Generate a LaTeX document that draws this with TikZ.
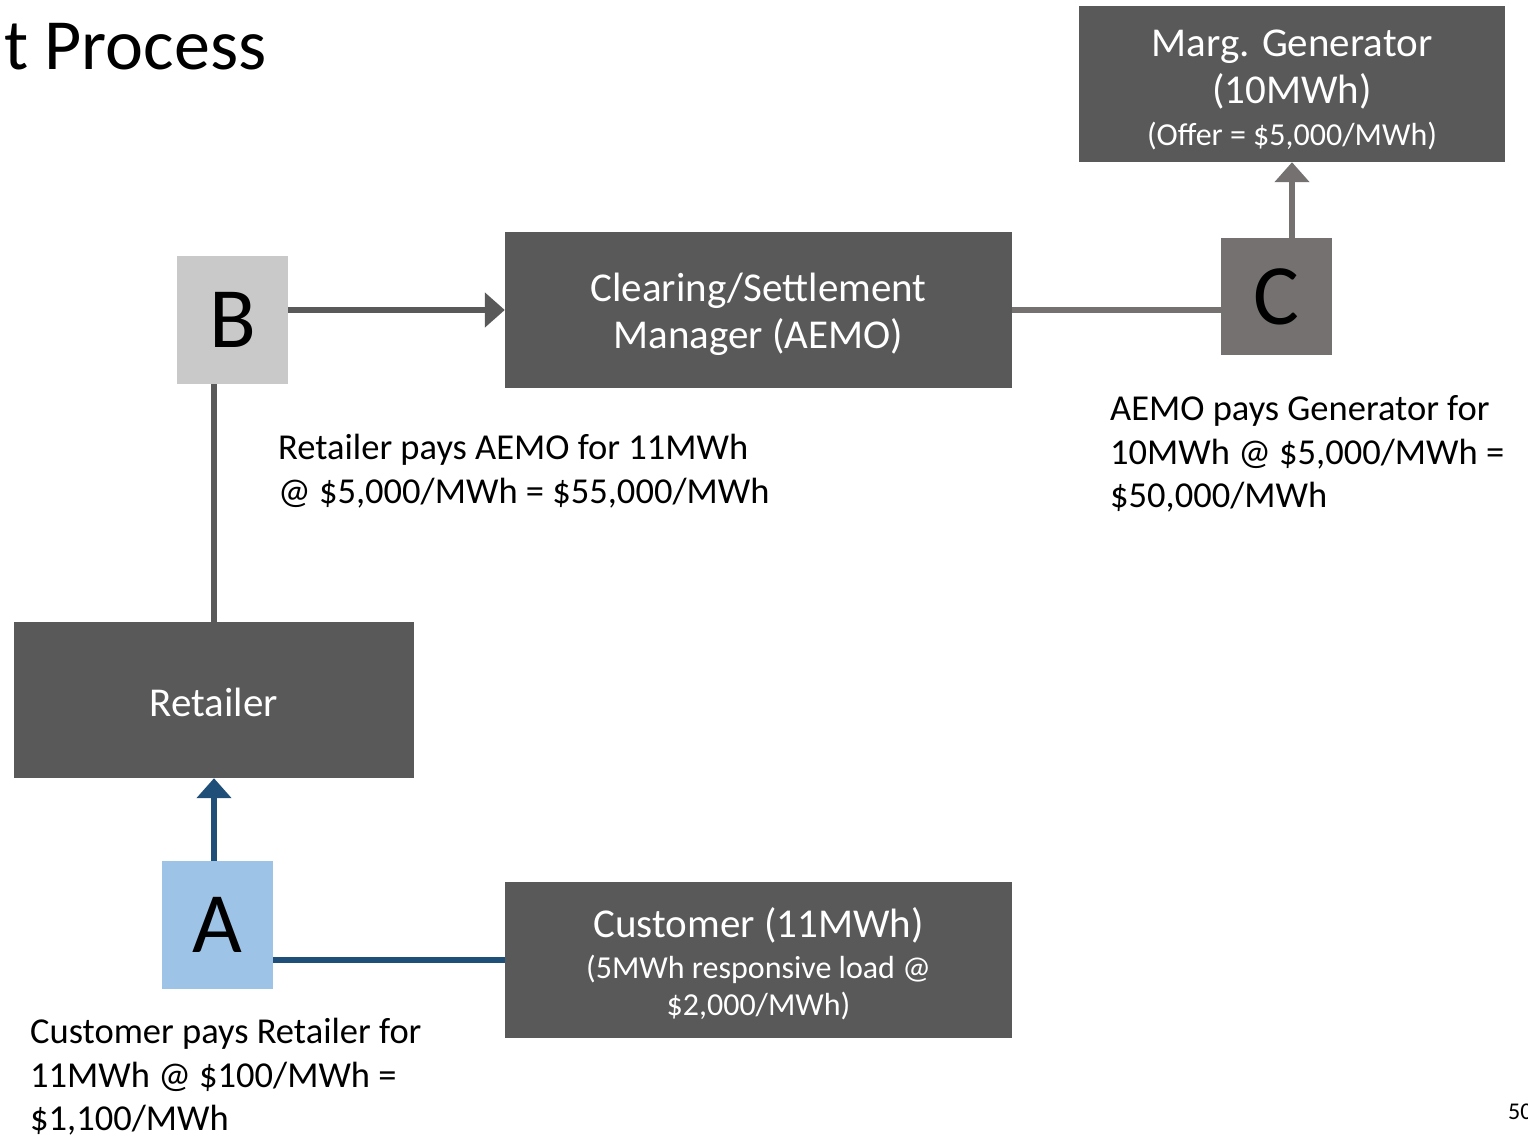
\documentclass[tikz,border=0pt]{standalone}
\usepackage{fontspec}
\setmainfont{Carlito}
\usepackage{xcolor}
\usepackage{tikz}
\usetikzlibrary{positioning,calc,arrows.meta}

\definecolor{boxgray}{HTML}{595959}
\definecolor{cgray}{HTML}{767171}
\definecolor{bgray}{HTML}{C9C9C9}
\definecolor{ablue}{HTML}{9DC3E6}
\definecolor{linkblue}{HTML}{1F4E79}

\newcommand{\smalltext}[1]{{\fontsize{32}{38}\selectfont #1}}

\tikzset{
    party/.style={fill=boxgray, inner sep=0pt},
    partytext/.style={text=white, inner sep=0pt, align=center,
        font=\fontsize{41}{47}\selectfont},
    stage/.style={inner sep=0pt, text=black, font=\fontsize{86}{90}\selectfont},
    note/.style={anchor=west, align=left, inner sep=0pt, font=\fontsize{36.5}{43.5}\selectfont},
    link/.style={line width=6.5pt},
    flow/.style={link, -{Triangle[width=34pt,length=20pt]}}
}

\begin{document}
\begin{tikzpicture}[x=1pt,y=-1pt]
    \useasboundingbox (0,0) rectangle (1528,1140);
    \node [anchor=base west, inner sep=0pt, font=\fontsize{72}{76}\selectfont] (title) at (4,70) {t Process};
    \node [party, minimum width=426pt, minimum height=156pt,
        label={[partytext, yshift=-6pt]center:{Marg. Generator\\(10MWh)\\[-5pt]\smalltext{(Offer = \$5,000/MWh)}}}] (gen) at (1292,84) {};
    \node [party, minimum width=507pt, minimum height=156pt,
        label={[partytext, yshift=-4pt]center:{Clearing/Settlement\\Manager (AEMO)}}] (clear) at (758.5,310) {};
    \node [party, minimum width=400pt, minimum height=156pt,
        label={[partytext, yshift=-2pt]center:Retailer}] (retailer) at (214,700) {};
    \node [party, minimum width=507pt, minimum height=156pt,
        label={[partytext, yshift=-4pt]center:{Customer (11MWh)\\[-6pt]\smalltext{(5MWh responsive load @}\\[-10pt]\smalltext{\$2,000/MWh)}}}] (cust) at (758.5,960) {};
    % payment points
    \node [stage, fill=bgray, minimum width=111pt, minimum height=128pt] (B) at (232.5,320) {B};
    \node [stage, fill=cgray, minimum width=111pt, minimum height=117pt] (C) at (1276.5,296.5) {C};
    \node [stage, fill=ablue, minimum width=111pt, minimum height=128pt] (A) at (217.5,925) {A};
    % links
    \draw [flow, boxgray] (B.east |- clear.west) -- (clear.west);
    \draw [link, boxgray] (retailer.north |- B.south) -- (retailer.north);
    \draw [link, cgray] (clear.east) -- (clear.east -| C.west);
    \draw [flow, cgray] (gen.south |- C.north) -- (gen.south);
    \draw [flow, linkblue] (retailer.south |- A.north) -- (retailer.south);
    \draw [link, linkblue] (A.east |- cust.west) -- (cust.west);
    % notes
    \node [note] (noteB) at (278,471) {Retailer pays AEMO for 11MWh\\@ \$5,000/MWh = \$55,000/MWh};
    \node [note] (noteC) at (1110,454) {AEMO pays Generator for\\10MWh @ \$5,000/MWh =\\\$50,000/MWh};
    \node [note] (noteA) at (30,1077) {Customer pays Retailer for\\11MWh @ \$100/MWh =\\\$1,100/MWh};
    \node [anchor=west, inner sep=0pt, font=\fontsize{24}{28}\selectfont] (page) at (1508,1112) {50};
\end{tikzpicture}
\end{document}
